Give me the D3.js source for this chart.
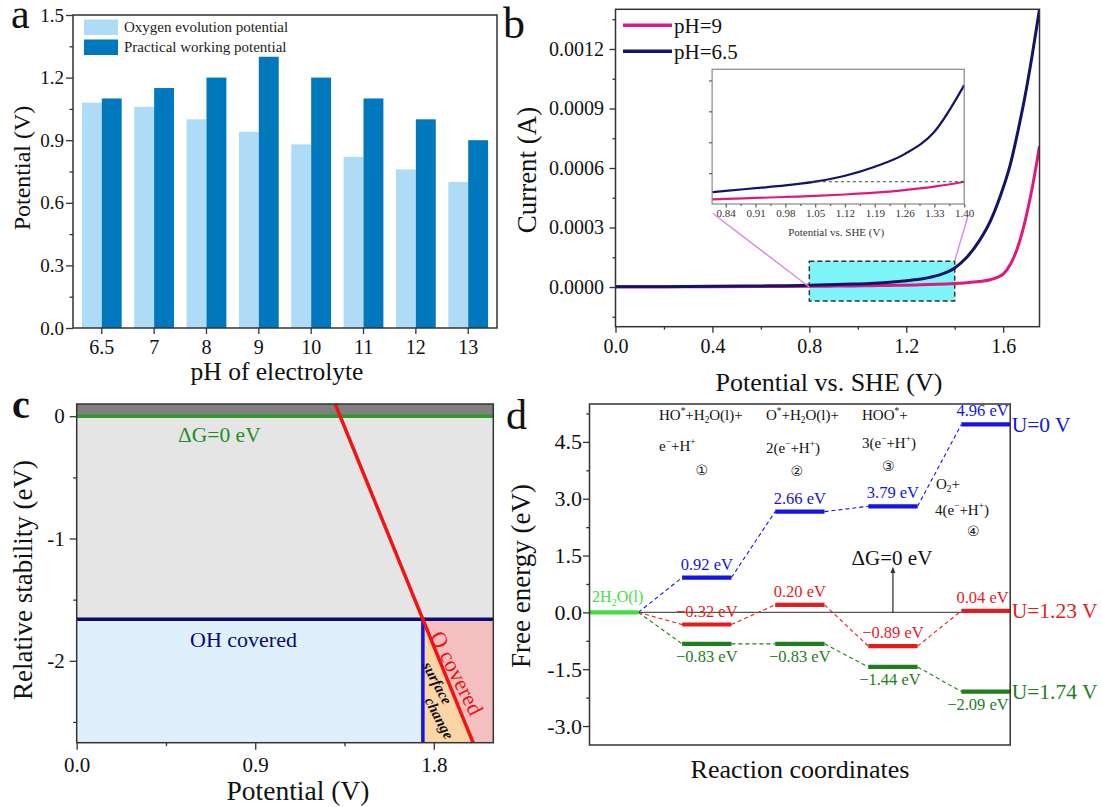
<!DOCTYPE html>
<html><head><meta charset="utf-8">
<script src="https://cdn.jsdelivr.net/npm/d3@7"></script>
<style>body{margin:0;background:#fff} svg{display:block}</style>
</head><body><svg id="fig" width="1102" height="807"></svg>
<script>
// ================= DATA =================
// panel a
const phCategories = ["6.5","7","8","9","10","11","12","13"];
const oxygenEvolution = [1.08,1.06,1.00,0.94,0.88,0.82,0.76,0.70];
const practicalWorking = [1.10,1.15,1.20,1.30,1.20,1.10,1.00,0.90];
const barSeriesNames = ["Oxygen evolution potential","Practical working potential"];
const aYTicks = [0,0.3,0.6,0.9,1.2,1.5];
// panel b
const potentialGrid = [0,0.2,0.4,0.6,0.808,0.84,0.91,0.98,1.05,1.12,1.19,1.26,1.33,1.40,1.45,1.50,1.55,1.60,1.63,1.66,1.69,1.72,1.75];
const currentPH65 = [1.0e-6,2.0e-6,3.5e-6,5.5e-6,9.5e-6,1.06e-5,1.28e-5,1.50e-5,1.81e-5,2.29e-5,3.02e-5,4.04e-5,5.85e-5,9.62e-5,1.5e-4,2.3e-4,3.4e-4,5.0e-4,6.2e-4,7.8e-4,9.6e-4,1.17e-3,1.40e-3];
const currentPH9  = [1.0e-6,1.5e-6,2.0e-6,2.8e-6,3.8e-6,4.1e-6,4.9e-6,5.7e-6,6.5e-6,7.7e-6,9.2e-6,1.13e-5,1.40e-5,1.80e-5,2.2e-5,2.8e-5,3.8e-5,6.5e-5,1.15e-4,2.0e-4,3.3e-4,5.0e-4,7.1e-4];
const lsvSeriesNames = ["pH=9","pH=6.5"];
const bYTicks = [0,0.0003,0.0006,0.0009,0.0012];
const bXTicks = [0,0.4,0.8,1.2,1.6];
const zoomWindow = {v0:0.8, v1:1.4, i0:-0.00007, i1:0.00013};
const insetXTicks = [0.84,0.91,0.98,1.05,1.12,1.19,1.26,1.33,1.40];
const insetDashed = {v0:1.04, v1:1.40, i:1.8e-5};
// panel c
const cXTicks = [0,0.9,1.8];
const cYTicks = [0,-1,-2];
const ohCoveredLimit = -1.66;
const oCrossPotential = 1.745;
const redLine = [[1.303,0.1],[1.998,-2.67]];
// panel d
const reactionSteps = [0,1,2,3,4];
const energyU0   = [0,0.92,2.66,2.80,4.96];
const energyU123 = [0,-0.32,0.20,-0.89,0.04];
const energyU174 = [0,-0.83,-0.83,-1.44,-2.09];
const labelsU0   = ["0.92 eV","2.66 eV","3.79 eV","4.96 eV"];
const labelsU123 = ["\u22120.32 eV","0.20 eV","\u22120.89 eV","0.04 eV"];
const labelsU174 = ["\u22120.83 eV","\u22120.83 eV","\u22121.44 eV","\u22122.09 eV"];
const potentialNames = ["U=0 V","U=1.23 V","U=1.74 V"];
const dYTicks = [-3,-1.5,0,1.5,3,4.5];

// ================= HELPERS =================
const SERIF = '"Liberation Serif","Times New Roman",Times,serif';
const svg = d3.select("#fig");
const AX = "#333";

function frame(g, L, R, T, B, color, w) {
  g.append("rect").attr("x",L).attr("y",T).attr("width",R-L).attr("height",B-T)
   .attr("fill","none").attr("stroke",color||AX).attr("stroke-width",w||1.5);
}
function styleAxis(ax, fs, color) {
  ax.select(".domain").remove();
  ax.selectAll("line").attr("stroke",color||AX).attr("stroke-width",1.3);
  ax.selectAll("text").attr("font-family",SERIF).attr("font-size",fs).attr("fill","#111");
}
function leftAxis(g, scale, x, major, minor, fmt, fs, len, pad) {
  styleAxis(g.append("g").attr("transform",`translate(${x},0)`)
    .call(d3.axisLeft(scale).tickValues(major).tickSize(len).tickPadding(pad).tickFormat(fmt)), fs);
  if (minor) styleAxis(g.append("g").attr("transform",`translate(${x},0)`)
    .call(d3.axisLeft(scale).tickValues(minor).tickSize(len/2).tickFormat("")), fs);
}
function bottomAxis(g, scale, y, major, minor, fmt, fs, len, pad) {
  styleAxis(g.append("g").attr("transform",`translate(0,${y})`)
    .call(d3.axisBottom(scale).tickValues(major).tickSize(len).tickPadding(pad).tickFormat(fmt)), fs);
  if (minor) styleAxis(g.append("g").attr("transform",`translate(0,${y})`)
    .call(d3.axisBottom(scale).tickValues(minor).tickSize(len/2).tickFormat("")), fs);
}
function txt(g, x, y, s, fs, opts) {
  opts = opts || {};
  const t = g.append("text").attr("x",x).attr("y",y).attr("font-family",opts.family||SERIF)
    .attr("font-size",fs).attr("fill",opts.fill||"#111").attr("text-anchor",opts.anchor||"start").text(s);
  if (opts.weight) t.attr("font-weight",opts.weight);
  if (opts.style) t.attr("font-style",opts.style);
  return t;
}
function vtxt(g, x, y, s, fs, fill) { // rotated -90, x is baseline
  return g.append("text").attr("transform",`translate(${x},${y}) rotate(-90)`)
    .attr("font-family",SERIF).attr("font-size",fs).attr("fill",fill||"#111")
    .attr("text-anchor","middle").text(s);
}
function rich(g, x, y, parts, fs, fill, anchor) {
  const t = g.append("text").attr("x",x).attr("y",y).attr("font-size",fs)
    .attr("font-family",SERIF).attr("fill",fill||"#111").attr("text-anchor",anchor||"start");
  let shift = 0;
  parts.forEach(p => {
    const s = t.append("tspan");
    let target = 0;
    if (Array.isArray(p)) {
      s.text(p[0]).attr("font-size", fs*0.62);
      target = p[1]==="sup" ? -fs*0.38 : fs*0.22;
    } else s.text(p);
    s.attr("dy", target - shift); shift = target;
  });
  return t;
}

// ================= PANEL A =================
(function(){
  const L=73,R=497,T=15,B=328;
  const g = svg.append("g");
  const x0 = d3.scaleBand().domain(phCategories).range([L,R]).paddingInner(0.24).paddingOuter(0.17);
  const x1 = d3.scaleBand().domain(barSeriesNames).range([0,x0.bandwidth()]);
  const y = d3.scaleLinear().domain([0,1.5]).range([B,T]);
  const colors = ["#aedbf6","#0078bd"];
  const series = [oxygenEvolution, practicalWorking];
  series.forEach((vals,si)=>{
    g.selectAll(null).data(vals).join("rect")
      .attr("x",(d,i)=>x0(phCategories[i])+x1(barSeriesNames[si]))
      .attr("y",d=>y(d)).attr("width",x1.bandwidth()).attr("height",d=>B-y(d))
      .attr("fill",colors[si]);
  });
  frame(g,L,R,T,B);
  leftAxis(g,y,L,aYTicks,[0.15,0.45,0.75,1.05,1.35],d3.format(".1f"),19,7,2);
  styleAxis(g.append("g").attr("transform",`translate(0,${B})`)
    .call(d3.axisBottom(x0).tickSize(6).tickPadding(6)), 20);
  // legend
  barSeriesNames.forEach((n,i)=>{
    g.append("rect").attr("x",84).attr("y",19.5+i*20).attr("width",34).attr("height",15.5).attr("fill",colors[i]);
    txt(g,124,31.5+i*20,n,15,{fill:"#222"});
  });
  vtxt(g,29.5,168,"Potential (V)",24);
  txt(g,277,380,"pH of electrolyte",25.5,{anchor:"middle"});
  txt(g,11,28,"a",42);
})();

// ================= PANEL B =================
(function(){
  const L=615.5,R=1039.5,T=9.3,B=326.7;
  const g = svg.append("g");
  const x = d3.scaleLinear().domain([0,1.75]).range([L,R]);
  const y = d3.scaleLinear().domain([-0.0002,0.0014]).range([B,T]);
  svg.append("clipPath").attr("id","clipB").append("rect").attr("x",L).attr("y",T).attr("width",R-L).attr("height",B-T);
  const colors = ["#e0197c","#13136c"];
  const data = [potentialGrid.map((v,i)=>[v,currentPH9[i]]), potentialGrid.map((v,i)=>[v,currentPH65[i]])];
  // zoom window
  g.append("rect").attr("x",x(zoomWindow.v0)).attr("y",y(zoomWindow.i1))
    .attr("width",x(zoomWindow.v1)-x(zoomWindow.v0)).attr("height",y(zoomWindow.i0)-y(zoomWindow.i1))
    .attr("fill","#7ef5f8").attr("stroke","#333").attr("stroke-width",1.5).attr("stroke-dasharray","5,3");
  const line = d3.line().x(d=>x(d[0])).y(d=>y(d[1])).curve(d3.curveMonotoneX);
  const cg = g.append("g").attr("clip-path","url(#clipB)");
  [0,1].forEach(i=>cg.append("path").attr("d",line(data[i])).attr("fill","none")
     .attr("stroke",colors[i]).attr("stroke-width",3));
  frame(g,L,R,T,B);
  leftAxis(g,y,L,bYTicks,[-0.00015,0.00015,0.00045,0.00075,0.00105,0.00135],d3.format(".4f"),20,6,5.5);
  bottomAxis(g,x,B,bXTicks,[0.2,0.6,1.0,1.4],d3.format(".1f"),20,6,6.5);
  // inset
  const iL=712.1,iR=964.2,iT=69.3,iB=204;
  const xi = d3.scaleLinear().domain([0.808,1.40]).range([iL,iR]);
  const yi = d3.scaleLinear().domain([0,1.09e-4]).range([iB,iT]);
  // connectors
  g.append("line").attr("x1",x(zoomWindow.v0)).attr("y1",y(0)).attr("x2",iL+0.7).attr("y2",iB+9.5)
    .attr("stroke","#dc8fe2").attr("stroke-width",1.5);
  g.append("line").attr("x1",x(zoomWindow.v1)).attr("y1",y(zoomWindow.i1)).attr("x2",iR+4).attr("y2",iB+11)
    .attr("stroke","#dc8fe2").attr("stroke-width",1.5);
  g.append("rect").attr("x",iL).attr("y",iT).attr("width",iR-iL).attr("height",iB-iT).attr("fill","#fff");
  const il = d3.line().x(d=>xi(d[0])).y(d=>yi(d[1])).curve(d3.curveMonotoneX);
  [0,1].forEach(i=>g.append("path").attr("d",il(data[i].filter(d=>d[0]>=0.808&&d[0]<=1.4001)))
     .attr("fill","none").attr("stroke",colors[i]).attr("stroke-width",2.2));
  g.append("line").attr("x1",xi(insetDashed.v0)).attr("x2",xi(insetDashed.v1))
    .attr("y1",yi(insetDashed.i)).attr("y2",yi(insetDashed.i))
    .attr("stroke","#444").attr("stroke-width",1.2).attr("stroke-dasharray","3,3");
  frame(g,iL,iR,iT,iB,"#888",1.2);
  const ax1 = g.append("g").attr("transform",`translate(0,${iB})`)
    .call(d3.axisBottom(xi).tickValues(insetXTicks).tickSize(3.5).tickPadding(2).tickFormat(d3.format(".2f")));
  styleAxis(ax1,11,"#666"); ax1.selectAll("text").attr("fill","#333");
  styleAxis(g.append("g").attr("transform",`translate(0,${iB})`)
    .call(d3.axisBottom(xi).tickValues(insetXTicks.slice(0,-1).map(v=>v+0.035)).tickSize(2).tickFormat("")),11,"#666");
  styleAxis(g.append("g").attr("transform",`translate(${iL},0)`)
    .call(d3.axisLeft(yi).tickValues([2.5e-5,5e-5,7.5e-5,1e-4]).tickSize(3).tickFormat("")),11,"#666");
  txt(g,(iL+iR)/2-2,236,"Potential vs. SHE (V)",11,{anchor:"middle",fill:"#333"});
  // legend
  lsvSeriesNames.forEach((n,i)=>{
    g.append("line").attr("x1",623).attr("x2",672).attr("y1",25.3+i*26).attr("y2",25.3+i*26)
      .attr("stroke",colors[i]).attr("stroke-width",3.5);
    txt(g,674,32.5+i*26,n,21);
  });
  vtxt(g,536,170,"Current (A)",27);
  txt(g,829,391,"Potential vs. SHE (V)",26,{anchor:"middle"});
  txt(g,503,38,"b",44);
})();

// ================= PANEL C =================
(function(){
  const L=76.7,R=493.3,T=404,B=742.7;
  const g = svg.append("g");
  const x = d3.scaleLinear().domain([0,2.1]).range([L,R]);
  const y = d3.scaleLinear().domain([-2.67,0.1]).range([B,T]);
  const poly = pts => "M"+pts.map(p=>[x(p[0]),y(p[1])].join(",")).join("L")+"Z";
  const xMax=2.1, yMin=-2.67, yMax=0.1;
  g.append("path").attr("d",poly([[0,yMax],[xMax,yMax],[xMax,0],[0,0]])).attr("fill","#808080");
  g.append("path").attr("d",poly([[0,0],[xMax,0],[xMax,ohCoveredLimit],[0,ohCoveredLimit]])).attr("fill","#e5e5e5");
  g.append("path").attr("d",poly([[0,ohCoveredLimit],[oCrossPotential,ohCoveredLimit],[oCrossPotential,yMin],[0,yMin]])).attr("fill","#dff0fb");
  g.append("path").attr("d",poly([[oCrossPotential,ohCoveredLimit],[oCrossPotential,yMin],[redLine[1][0],yMin]])).attr("fill","#fbd5a6");
  g.append("path").attr("d",poly([[oCrossPotential,ohCoveredLimit],[redLine[1][0],yMin],[xMax,yMin],[xMax,ohCoveredLimit]])).attr("fill","#f5bfc0");
  g.append("line").attr("x1",x(0)).attr("x2",x(xMax)).attr("y1",y(0)).attr("y2",y(0)).attr("stroke","#2e9a2e").attr("stroke-width",3.5);
  g.append("line").attr("x1",x(0)).attr("x2",x(xMax)).attr("y1",y(ohCoveredLimit)).attr("y2",y(ohCoveredLimit)).attr("stroke","#0b0b73").attr("stroke-width",3.5);
  g.append("line").attr("x1",x(oCrossPotential)).attr("x2",x(oCrossPotential)).attr("y1",y(ohCoveredLimit)).attr("y2",y(yMin)).attr("stroke","#1212f0").attr("stroke-width",3.5);
  g.append("line").attr("x1",x(redLine[0][0])).attr("y1",y(redLine[0][1])).attr("x2",x(redLine[1][0])).attr("y2",y(redLine[1][1])).attr("stroke","#f01414").attr("stroke-width",3.5);
  frame(g,L,R,T,B);
  leftAxis(g,y,L,cYTicks,[-0.5,-1.5,-2.5],d=>String(d),21,7,5);
  bottomAxis(g,x,B,cXTicks,[0.45,1.35],d3.format(".1f"),21,7,7);
  txt(g,178,441.7,"\u0394G=0 eV",21.5,{fill:"#1f8f1f"});
  txt(g,190,646.7,"OH covered",22,{fill:"#0b0b73"});
  g.append("text").attr("transform","translate(457,673) rotate(63)").attr("text-anchor","middle").attr("dy","0.35em")
    .attr("font-family",SERIF).attr("font-size",22).attr("fill","#e81414").text("O covered");
  g.append("text").attr("transform","translate(437.5,683) rotate(62)").attr("text-anchor","middle").attr("dy","0.35em")
    .attr("font-family",SERIF).attr("font-size",15).attr("font-weight","bold").attr("font-style","italic").attr("fill","#111").text("surface");
  g.append("text").attr("transform","translate(439.5,718) rotate(62)").attr("text-anchor","middle").attr("dy","0.35em")
    .attr("font-family",SERIF).attr("font-size",15).attr("font-weight","bold").attr("font-style","italic").attr("fill","#111").text("change");
  vtxt(g,32,580,"Relative stability (eV)",27);
  txt(g,298,800,"Potential (V)",27.5,{anchor:"middle"});
  txt(g,12,418,"c",40,{weight:"bold"});
})();

// ================= PANEL D =================
(function(){
  const L=589.5,R=1010.2,T=404,B=745;
  const g = svg.append("g");
  const x = d3.scaleLinear().domain([-0.26,4.26]).range([L,R]);
  const y = d3.scaleLinear().domain([-3.5,5.5]).range([B,T]);
  const hw = 0.265;
  const colors = ["#1414e6","#e41c1c","#1e7e1e"];
  const series = [energyU0, energyU123, energyU174];
  const labels = [labelsU0, labelsU123, labelsU174];
  // zero line
  g.append("line").attr("x1",x(0+hw)).attr("x2",x(4-hw)).attr("y1",y(0)).attr("y2",y(0)).attr("stroke","#555").attr("stroke-width",1.1);
  // dashed connectors
  series.forEach((e,si)=>{
    for (let i=0;i<reactionSteps.length-1;i++){
      g.append("line").attr("x1",x(reactionSteps[i]+hw)).attr("y1",y(e[i]))
        .attr("x2",x(reactionSteps[i+1]-hw)).attr("y2",y(e[i+1]))
        .attr("stroke",colors[si]).attr("stroke-width",1.1).attr("stroke-dasharray","4,3");
    }
  });
  // levels
  series.forEach((e,si)=>{
    reactionSteps.slice(1).forEach((s,k)=>{
      const i=k+1;
      g.append("line").attr("x1",x(s-hw)).attr("x2",x(Math.min(s+hw,4.26))).attr("y1",y(e[i])).attr("y2",y(e[i]))
        .attr("stroke",colors[si]).attr("stroke-width",4.2);
    });
  });
  g.append("line").attr("x1",x(-0.26)).attr("x2",x(hw)).attr("y1",y(0)).attr("y2",y(0)).attr("stroke","#3fe03f").attr("stroke-width",4.2);
  rich(g,x(0)+4,y(0)-10,["2H",["2","sub"],"O(l)"],16,"#3fe03f","middle");
  // value labels
  series.forEach((e,si)=>{
    labels[si].forEach((lab,k)=>{
      const i=k+1;
      const below = si===2;
      const yy = below ? y(e[i])+18.5 : y(e[i])-8;
      if (i===4) txt(g,x(4.26)-1.5,yy,lab,16.5,{fill:colors[si],anchor:"end"});
      else txt(g,x(reactionSteps[i])+(i===3&&below?-3:0),yy,lab,16.5,{fill:colors[si],anchor:"middle"});
    });
  });
  // right side U labels
  series.forEach((e,si)=>{
    txt(g,R+1.5,y(e[4])+7.5,potentialNames[si],21.5,{fill:colors[si]});
  });
  // arrow
  const defs = svg.append("defs");
  defs.append("marker").attr("id","arr").attr("viewBox","0 0 10 10").attr("refX",5).attr("refY",5)
    .attr("markerWidth",5).attr("markerHeight",6).attr("orient","auto")
    .append("path").attr("d","M0,1 L10,5 L0,9 Z").attr("fill","#333");
  g.append("line").attr("x1",x(3)).attr("x2",x(3)).attr("y1",y(0)).attr("y2",y(1.12))
    .attr("stroke","#333").attr("stroke-width",1.3).attr("marker-end","url(#arr)");
  txt(g,x(3)-1,565,"\u0394G=0 eV",21,{anchor:"middle"});
  // reaction species
  const fs=15;
  rich(g,659,420,["HO",["*","sup"],"+H",["2","sub"],"O(l)+"],fs);
  rich(g,659,451,["e",["\u2212","sup"],"+H",["+","sup"]],fs);
  rich(g,766,420,["O",["*","sup"],"+H",["2","sub"],"O(l)+"],fs);
  rich(g,766,453,["2(e",["\u2212","sup"],"+H",["+","sup"],")"],fs);
  rich(g,862,420,["HOO",["*","sup"],"+"],fs);
  rich(g,862,448,["3(e",["\u2212","sup"],"+H",["+","sup"],")"],fs);
  rich(g,936,489,["O",["2","sub"],"+"],fs);
  rich(g,935,515,["4(e",["\u2212","sup"],"+H",["+","sup"],")"],fs);
  const circ = {family:'"DejaVu Sans",sans-serif',anchor:"middle",fill:"#222"};
  txt(g,701.7,475,"\u2460",14,circ);
  txt(g,796.7,476,"\u2461",14,circ);
  txt(g,888.3,471,"\u2462",14,circ);
  txt(g,973.3,536,"\u2463",14,circ);
  frame(g,L,R,T,B);
  leftAxis(g,y,L,dYTicks,[-2.25,-0.75,0.75,2.25,3.75,5.25],d=>d.toFixed(1),22,6.5,1);
  vtxt(g,530,576,"Free energy (eV)",27);
  txt(g,800,778,"Reaction coordinates",26,{anchor:"middle"});
  txt(g,506,429,"d",42);
})();
</script></body></html>
